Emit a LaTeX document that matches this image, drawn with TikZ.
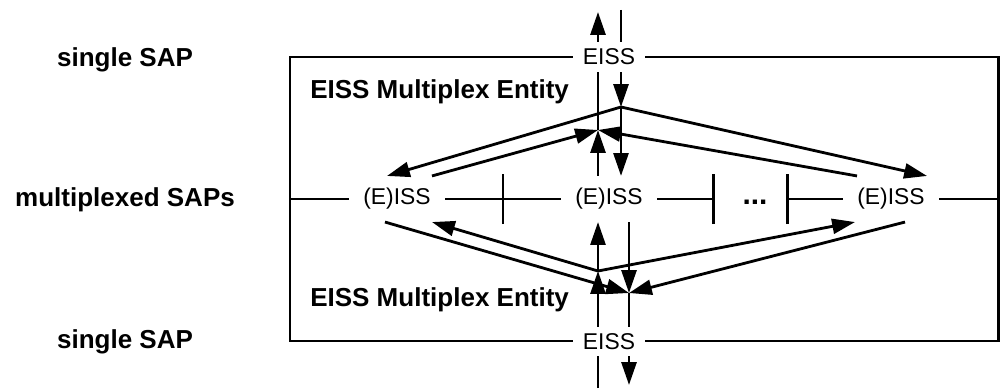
\documentclass[tikz,border=0pt]{standalone}
\usepackage{fontspec}
\setmainfont{Liberation Sans}
\usetikzlibrary{arrows.meta}

\begin{document}
\begin{tikzpicture}[line width=1.6pt,
  flow/.style={-{Triangle[length=13pt,width=8.5pt]}},
  sap/.style={font=\fontsize{13}{15}\selectfont,inner xsep=0.26cm,inner ysep=0.22cm},
  eiss/.style={font=\fontsize{13}{15}\selectfont,fill=white,inner xsep=0.2cm,inner ysep=0.13cm},
  lbl/.style={font=\fontsize{14.8}{17}\selectfont\bfseries}]
\useasboundingbox (0,0) rectangle (20,7.76);

% row labels
\node[lbl] (topsap) at (2.5,6.56) {single SAP};
\node[lbl] (muxsap) at (2.5,3.76) {multiplexed SAPs};
\node[lbl] (botsap) at (2.5,0.92) {single SAP};

% entity box
\draw[line width=1.7pt] (5.8,0.94) rectangle (19.96,6.62);
\node[lbl,anchor=west] (enttop) at (6.06,5.92) {EISS Multiplex Entity};
\node[lbl,anchor=west] (entbot) at (6.06,1.76) {EISS Multiplex Entity};

% multiplexed SAPs
\node[sap] (issL) at (7.94,3.78) {(E)ISS};
\node[sap] (issM) at (12.18,3.78) {(E)ISS};
\node[sap] (issR) at (17.82,3.78) {(E)ISS};
\node[font=\fontsize{17}{19}\selectfont\bfseries] (dots) at (15.1,3.72) {...};

\coordinate (tickA) at (10.06,3.78);
\coordinate (tickB) at (14.26,3.78);
\coordinate (tickC) at (15.74,3.78);

\draw[line width=1.7pt] (5.8,3.78) -- (issL.west);
\draw[line width=1.7pt] (issL.east) -- (issM.west);
\draw[line width=1.7pt] (issM.east) -- (tickB);
\draw[line width=1.7pt] (tickC) -- (issR.west);
\draw[line width=1.7pt] (issR.east) -- (19.96,3.78);
\foreach \t in {tickA,tickB,tickC}
  \draw[line width=1.7pt] ([yshift=-0.5cm]\t) -- ([yshift=0.5cm]\t);

% junctions of the two multiplex entities
\coordinate (T1) at (12.42,5.62);
\coordinate (T2) at (11.96,5.16);
\coordinate (B1) at (11.96,2.34);
\coordinate (B2) at (12.58,1.90);
\coordinate (topin) at (12.42,7.56);
\coordinate (topout) at (11.96,7.52);
\coordinate (botin) at (11.96,0);
\coordinate (botout) at (12.58,0.06);

% upper entity
\draw[flow] (topin) -- (T1);
\draw[flow] (T1) -- ([xshift=-0.2cm]issL.north);
\draw[flow] (T1) -- (issM.north -| T1);
\draw[flow] (T1) -- ([xshift=0.72cm]issR.north);
\draw[flow] ([xshift=0.7cm]issL.north) -- (T2);
\draw[flow] (issM.north -| T2) -- (T2);
\draw[flow] ([xshift=-0.68cm]issR.north) -- (T2);
\draw[flow] (T2) -- (topout);

% lower entity
\draw[flow] (botin) -- (B1);
\draw[flow] (B1) -- (issM.south -| B1);
\draw[flow] (B1) -- ([xshift=0.7cm]issL.south);
\draw[flow] (B1) -- ([xshift=-0.72cm]issR.south);
\draw[flow] ([xshift=-0.24cm]issL.south) -- (B2);
\draw[flow] (issM.south -| B2) -- (B2);
\draw[flow] ([xshift=0.28cm]issR.south) -- (B2);
\draw[flow] (B2) -- (botout);

\node[eiss] (eissT) at (12.18,6.62) {EISS};
\node[eiss] (eissB) at (12.18,0.93) {EISS};
\end{tikzpicture}
\end{document}
